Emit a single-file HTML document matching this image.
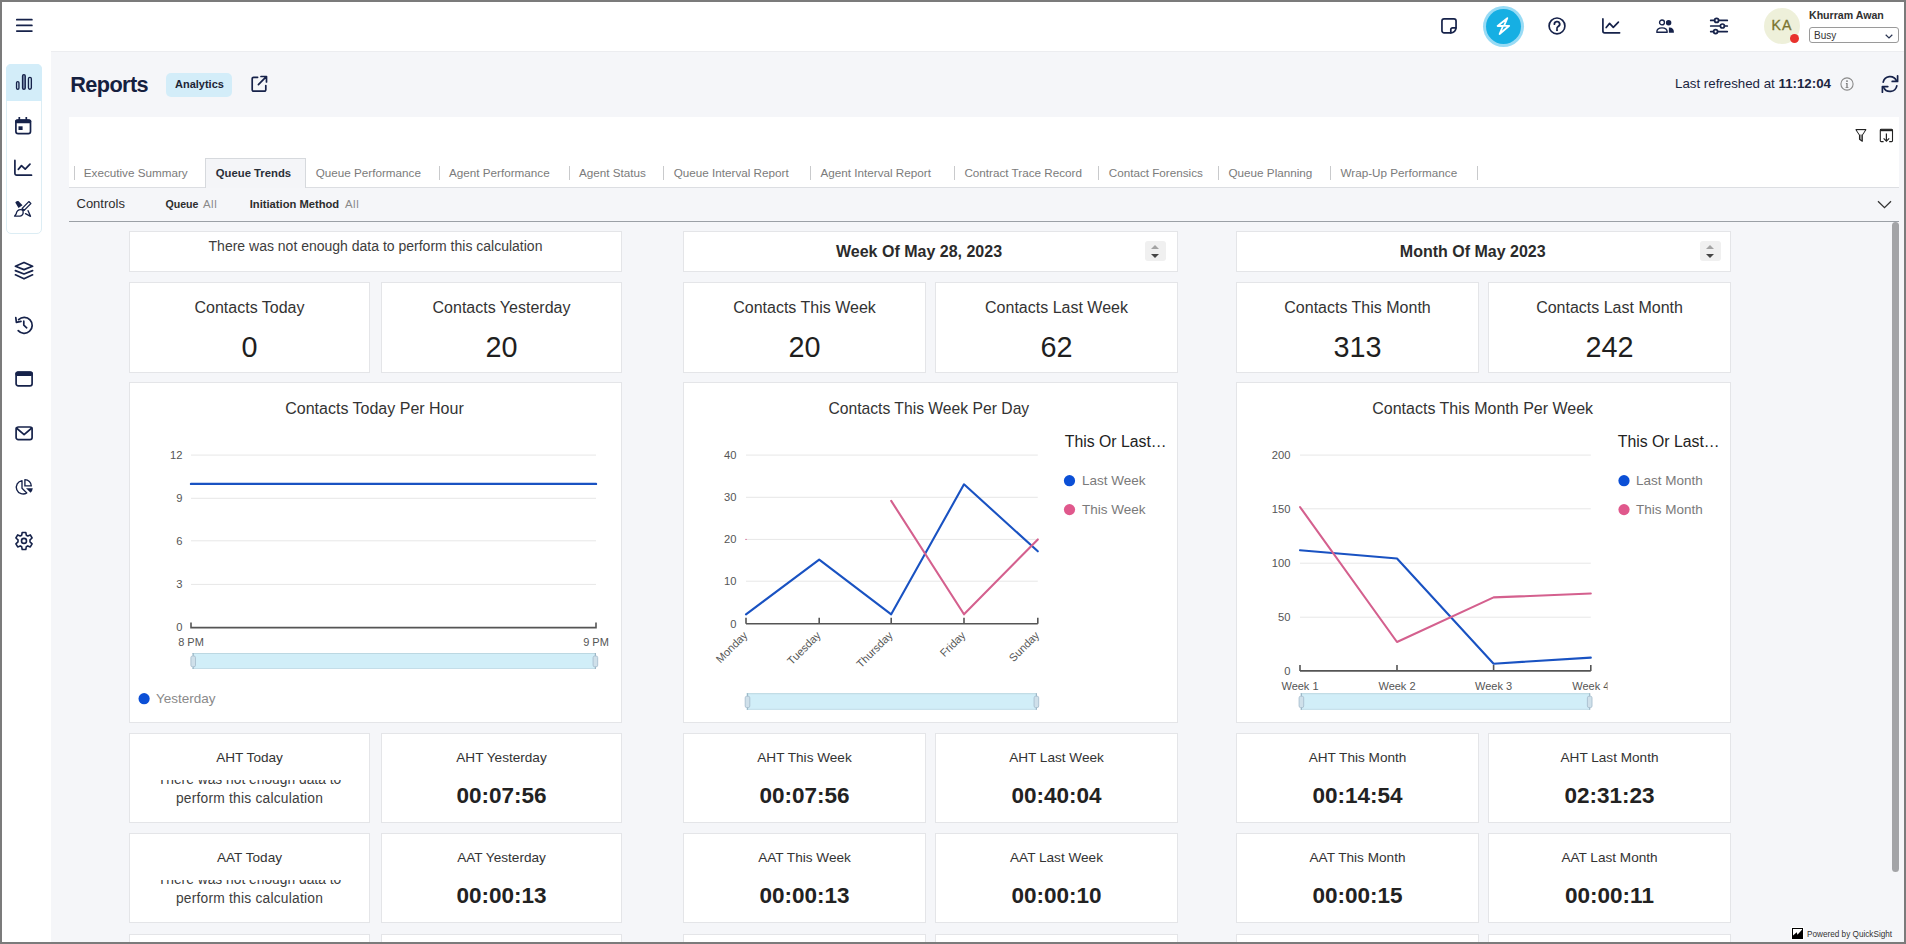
<!DOCTYPE html>
<html><head><meta charset="utf-8"><title>Reports</title>
<style>
*{box-sizing:border-box;margin:0;padding:0}
html,body{width:1906px;height:944px;overflow:hidden}
body{background:#f5f6f9;font-family:"Liberation Sans",Arial,sans-serif;position:relative}
.a{position:absolute}
.bd{position:absolute;background:#7b7b7b;z-index:100}
.t{position:absolute;white-space:nowrap;line-height:1}
svg{position:absolute;overflow:visible}
.ic{fill:none;stroke:#16224a;stroke-width:1.7;stroke-linecap:round;stroke-linejoin:round}
.card{position:absolute;background:#fff;border:1px solid #e4e5e8}
.kt{position:absolute;left:0;right:0;text-align:center;white-space:nowrap;line-height:1;color:#333}
.tab{position:absolute;top:166.6px;font-size:11.7px;color:#7b7b7b;white-space:nowrap;line-height:1}
.sep{position:absolute;top:166px;width:1px;height:14px;background:#c9cacc}
.spin{position:absolute;width:21px;height:19.5px;background:#f0f0f0;border-radius:3px}
.spin .up{position:absolute;left:6.3px;top:4.3px;width:0;height:0;border-left:4.3px solid transparent;border-right:4.3px solid transparent;border-bottom:4.7px solid #a3a3a3}
.spin .dn{position:absolute;left:6.3px;top:12.8px;width:0;height:0;border-left:4.3px solid transparent;border-right:4.3px solid transparent;border-top:4.5px solid #454545}
</style></head>
<body>
<!-- outer border -->
<div class="bd" style="left:0;top:0;width:1906px;height:2px"></div>
<div class="bd" style="left:0;top:0;width:2px;height:944px"></div>
<div class="bd" style="left:1904px;top:0;width:2px;height:944px"></div>
<div class="bd" style="left:0;top:942px;width:1906px;height:2px"></div>

<!-- header -->
<div class="a" style="left:0;top:0;width:1906px;height:51px;background:#fff"></div>
<div class="a" style="left:51px;top:51px;width:1853px;height:1px;background:#ecedf0"></div>
<!-- sidebar -->
<div class="a" style="left:0;top:0;width:51px;height:944px;background:#fff"></div>

<!-- hamburger -->
<svg style="left:16px;top:18px" width="17" height="15" viewBox="0 0 17 15"><g class="ic" stroke-width="1.8"><path d="M0.8 1.7H15.9M0.8 7.4H15.9M0.8 13.1H15.9"/></g></svg>

<!-- sidebar group -->
<div class="a" style="left:6px;top:64px;width:36px;height:170px;border:1px solid #dcedf4;border-radius:5px;background:#fff"></div>
<div class="a" style="left:6px;top:64px;width:36px;height:37px;background:#d3edf9;border-radius:5px 5px 0 0"></div>


<!-- header right icons -->
<svg style="left:1440px;top:17px" width="18" height="18" viewBox="0 0 18 18"><g class="ic" stroke-width="1.6"><path d="M4.1 1.95H13.9A2.15 2.15 0 0 1 16.05 4.1V10.6A5.25 5.25 0 0 1 10.8 15.85H4.1A2.15 2.15 0 0 1 1.95 13.7V4.1A2.15 2.15 0 0 1 4.1 1.95Z"/><path d="M15.9 10.9H12.5A1.7 1.7 0 0 0 10.8 12.6V15.8"/></g></svg>
<div class="a" style="left:1482.5px;top:6px;width:41px;height:41px;border-radius:50%;background:#98dbf5"></div>
<div class="a" style="left:1485.5px;top:9px;width:35px;height:35px;border-radius:50%;background:#16afe3"></div>
<svg style="left:1495px;top:16px" width="16" height="20" viewBox="0 0 16 20"><path d="M12.3 2.2L2.6 10H8L4.6 18L14.2 9.8H9Z" fill="none" stroke="#fff" stroke-width="1.8" stroke-linejoin="round"/></svg>
<svg style="left:1547px;top:16px" width="20" height="20" viewBox="0 0 20 20"><g class="ic" stroke-width="1.6"><circle cx="10" cy="9.9" r="7.9"/><path d="M7.4 8.2A2.65 2.5 0 1 1 11.2 10.4C10.5 10.9 10 11.3 10 12.2" stroke-width="1.8"/></g><circle cx="10" cy="14.1" r="1.15" fill="#16224a"/></svg>
<svg style="left:1601px;top:17px" width="20" height="18" viewBox="0 0 20 18"><g class="ic" stroke-width="1.75"><path d="M1.9 1.9V14.1A1.75 1.75 0 0 0 3.65 15.85H18.6"/><path d="M5.2 10.5L8.6 6.4L12.3 10.3L17.4 5.1"/></g></svg>
<svg style="left:1655px;top:18px" width="20" height="17" viewBox="0 0 20 17"><circle cx="13.6" cy="4.7" r="2.75" fill="#16224a"/><path d="M13.5 9.6H14.7C17.1 9.6 18.9 11.5 18.9 13.9V14.8H13.9Z" fill="#16224a"/><circle cx="7" cy="4.4" r="4" fill="#fff"/><path d="M13.3 9.2L12.6 15.2" stroke="#fff" stroke-width="1.2"/><g fill="none" stroke="#16224a" stroke-width="1.35"><circle cx="7" cy="4.4" r="2.45"/><path d="M1.8 14.2C1.8 11.4 4.1 9.9 7 9.9C9.9 9.9 12.2 11.4 12.2 14.2Z" stroke-linejoin="round"/></g></svg>
<svg style="left:1709px;top:16px" width="20" height="19" viewBox="0 0 20 19"><g class="ic" stroke-width="1.5"><path d="M1.7 4.4H5.5M9.7 4.4H18.3M1.7 10H11.3M15.5 10H18.3M1.7 15.6H4.5M8.7 15.6H18.3"/><circle cx="7.6" cy="4.4" r="2"/><circle cx="13.4" cy="10" r="2"/><circle cx="6.6" cy="15.6" r="2"/></g></svg>

<!-- avatar -->
<div class="a" style="left:1764px;top:8px;width:36px;height:36px;border-radius:50%;background:#eef0da"></div>
<div class="t" style="left:1771.4px;top:18.1px;font-size:14.1px;letter-spacing:1.3px;color:#7a7431;-webkit-text-stroke:0.35px #7a7431">KA</div>
<div class="a" style="left:1790px;top:34px;width:9px;height:9px;border-radius:50%;background:#e8322d"></div>
<div class="t" style="left:1809px;top:9.8px;font-size:10.6px;font-weight:700;color:#303030">Khurram Awan</div>
<div class="a" style="left:1809px;top:27px;width:90px;height:16px;border:1px solid #9a9a9a;border-radius:3px;background:#fff"></div>
<div class="t" style="left:1814px;top:30.5px;font-size:10px;color:#333">Busy</div>
<svg style="left:1885px;top:34px" width="8" height="5" viewBox="0 0 8 5"><path d="M0.7 0.8L4 4L7.3 0.8" fill="none" stroke="#2a3552" stroke-width="1.2"/></svg>

<!-- reports title row -->
<div class="t" style="left:70.3px;top:73.6px;font-size:21.7px;letter-spacing:-0.6px;font-weight:700;color:#15203f">Reports</div>
<div class="a" style="left:166px;top:73px;width:66px;height:24px;border-radius:5px;background:#d3edf9"></div>
<div class="t" style="left:175px;top:78.5px;font-size:11px;font-weight:700;color:#1d2535">Analytics</div>
<svg style="left:250px;top:75px" width="18" height="18" viewBox="0 0 18 18"><g class="ic" stroke-width="1.7"><path d="M7.6 2.3H3.6A1.4 1.4 0 0 0 2.2 3.7V14.8A1.4 1.4 0 0 0 3.6 16.2H14.4A1.4 1.4 0 0 0 15.8 14.8V10.6"/><path d="M11 1.5H16.5V7M16.3 1.7L8.4 9.6"/></g></svg>

<div class="t" style="left:1675px;top:76.8px;font-size:13.3px;color:#1b2540">Last refreshed at <b>11:12:04</b></div>
<svg style="left:1840.4px;top:76.7px" width="14" height="14" viewBox="0 0 14 14"><circle cx="7" cy="7" r="6.1" fill="none" stroke="#8a8a8a" stroke-width="1.1"/><circle cx="7" cy="4.1" r="0.85" fill="#6a6a6a"/><path d="M6.45 5.9H7.55V9.9H8.4V10.8H5.6V9.9H6.45V6.8H5.9V5.9Z" fill="#6a6a6a"/></svg>
<svg style="left:1880px;top:74px" width="20" height="20" viewBox="0 0 20 20"><g class="ic" stroke-width="1.8"><path d="M3.2 8.2A7 7 0 0 1 16.4 6.6"/><path d="M17.6 1.8V7.4H12.2"/><path d="M16.8 11.8A7 7 0 0 1 3.6 13.4"/><path d="M2.4 18.2V12.6H7.8"/></g></svg>

<!-- white panel (tabs area) -->
<div class="a" style="left:69px;top:117px;width:1830px;height:71px;background:#fff;border-bottom:1px solid #dcdee2"></div>
<svg style="left:1855px;top:128px" width="12" height="15" viewBox="0 0 12 15"><path d="M1 1.6H10.8L7.3 7V13.3L4.5 11.3V7Z" fill="#9a9a9a" stroke="#222" stroke-width="1.1" stroke-linejoin="round"/><path d="M1.8 2.2H10L7.2 6.6H4.6Z" fill="#fff"/></svg>
<svg style="left:1879px;top:128px" width="15" height="15" viewBox="0 0 15 15"><path d="M4.6 13.6H2.2A0.9 0.9 0 0 1 1.3 12.7V2.2A0.9 0.9 0 0 1 2.2 1.3H12.6A0.9 0.9 0 0 1 13.5 2.2V12.7A0.9 0.9 0 0 1 12.6 13.6H10.2" fill="none" stroke="#222" stroke-width="1.1"/><rect x="1.3" y="1.3" width="12.2" height="1.9" fill="#222"/><path d="M7.4 5.6V13.2M4.6 10.4L7.4 13.2L10.2 10.4" fill="none" stroke="#222" stroke-width="1.2"/></svg>


<!-- sidebar icons -->
<svg style="left:14px;top:72px" width="20" height="20" viewBox="0 0 20 20"><g fill="none" stroke="#16224a" stroke-width="1.35"><rect x="2.55" y="9.65" width="2.4" height="7.6" rx="1.2"/><rect x="8.55" y="2.65" width="2.7" height="14.6" rx="1.3" fill="#8497b6"/><rect x="14.45" y="5.35" width="2.9" height="11.9" rx="1.4"/></g></svg>
<svg style="left:14px;top:116px" width="19" height="20" viewBox="0 0 19 20"><g fill="none" stroke="#16224a" stroke-width="1.7"><rect x="1.9" y="4.1" width="14.6" height="13.5" rx="2.2"/><path d="M5.3 0.9V4.5M12.3 0.9V4.5"/></g><rect x="1.1" y="3.4" width="16.2" height="3.8" rx="1.6" fill="#16224a"/><rect x="4.5" y="10.3" width="4.1" height="3.7" fill="#16224a"/></svg>
<svg style="left:13px;top:159px" width="20" height="18" viewBox="0 0 20 18"><g class="ic" stroke-width="1.9"><path d="M1.9 1.4V14.3A1.8 1.8 0 0 0 3.7 16.2H18.5"/><path d="M5.3 10.4L8.5 6.6L12.2 10.1L17 5.1"/></g></svg>
<svg style="left:12px;top:198px" width="24" height="22" viewBox="0 0 24 22"><path d="M3.3 4.6Q4 2.6 6.4 3.1L10.5 7.2L6.5 9.9Z" fill="#16224a"/><g fill="none" stroke="#16224a" stroke-width="1.35" stroke-linejoin="round" stroke-linecap="round"><path d="M16.8 3.6L18.8 5.6L12.2 12.4L10.2 10.4Z"/><path d="M9.2 11.7C6.3 11.5 4.6 13.4 4.2 15.9L2.6 18.1H8.1C10.2 17.9 11.5 16.1 11.1 13.7"/><path d="M13.5 15.7L18.5 18.3L16.1 12.7"/></g><path d="M10.2 10.4L12.2 12.4L11 13.7L9 11.7Z" fill="#16224a"/></svg>
<svg style="left:14px;top:261px" width="20" height="20" viewBox="0 0 20 20"><g class="ic" stroke-width="1.6"><path d="M1.4 5.3L10 1.4L18.6 5.3L10 8.6Z"/><path d="M1.4 9.6L10 13L18.6 9.6"/><path d="M1.4 13.8L10 17.8L18.6 13.8"/></g></svg>
<svg style="left:14px;top:315px" width="20" height="20" viewBox="0 0 20 20"><g class="ic" stroke-width="1.6"><path d="M4.6 4.6A8 8 0 1 1 4.2 15.6"/><path d="M1.8 2.6L2.4 7.4L7 6.4"/><path d="M9.8 6.2V10.2L12.7 12.8"/></g></svg>
<svg style="left:14px;top:370px" width="20" height="18" viewBox="0 0 20 18"><rect x="2.1" y="2.2" width="16" height="13.7" rx="2.2" fill="none" stroke="#16224a" stroke-width="1.7"/><rect x="1.3" y="1.4" width="17.6" height="4.5" rx="2" fill="#16224a"/></svg>
<svg style="left:14px;top:425px" width="20" height="16" viewBox="0 0 20 16"><g class="ic" stroke-width="1.7"><rect x="2.1" y="2" width="16" height="12.6" rx="2.2"/><path d="M2.4 3L10.1 9.6L17.8 3"/></g></svg>
<svg style="left:12px;top:476px" width="24" height="22" viewBox="0 0 24 22"><g fill="none" stroke="#16224a" stroke-width="1.35" stroke-linejoin="round"><path d="M10 4.6V12.3L14.8 16.9A6.75 6.75 0 1 1 10 4.6Z"/><path d="M12.9 9.9V3.6A6.4 6.4 0 0 1 19.3 9.9Z"/></g><path d="M14 12.3H20.8A6.8 6.8 0 0 1 18.6 16.7Z" fill="#16224a"/></svg>
<svg style="left:14px;top:531px" width="20" height="20" viewBox="0 0 20 20"><path d="M8.2 1.5H11.8L12.3 4.2L13.8 5L16.3 3.9L18.1 7L16 8.8V10.9L18.1 12.8L16.3 15.9L13.8 14.9L12.3 15.8L11.8 18.5H8.2L7.7 15.8L6.2 14.9L3.7 15.9L1.9 12.8L4 10.9V8.8L1.9 7L3.7 3.9L6.2 5L7.7 4.2Z" fill="none" stroke="#16224a" stroke-width="1.6" stroke-linejoin="round"/><circle cx="10" cy="9.9" r="2.5" fill="none" stroke="#16224a" stroke-width="1.6"/></svg>


<!-- tabs -->
<div class="a" style="left:205px;top:158px;width:101px;height:30px;background:#f4f5f8;border:1px solid #d6d9dd;border-bottom:none"></div>
<div class="t" style="left:215.8px;top:167.9px;font-size:11.3px;font-weight:700;color:#2a2f38">Queue Trends</div>
<div class="tab" style="left:83.8px">Executive Summary</div>
<div class="tab" style="left:315.7px">Queue Performance</div>
<div class="tab" style="left:449px">Agent Performance</div>
<div class="tab" style="left:579px">Agent Status</div>
<div class="tab" style="left:673.7px">Queue Interval Report</div>
<div class="tab" style="left:820.5px">Agent Interval Report</div>
<div class="tab" style="left:964.4px">Contract Trace Record</div>
<div class="tab" style="left:1108.7px">Contact Forensics</div>
<div class="tab" style="left:1228.5px">Queue Planning</div>
<div class="tab" style="left:1340.5px">Wrap-Up Performance</div>
<div class="sep" style="left:74.0px"></div>
<div class="sep" style="left:439.0px"></div>
<div class="sep" style="left:569.2px"></div>
<div class="sep" style="left:663.1px"></div>
<div class="sep" style="left:809.5px"></div>
<div class="sep" style="left:954.0px"></div>
<div class="sep" style="left:1098.1px"></div>
<div class="sep" style="left:1217.9px"></div>
<div class="sep" style="left:1329.9px"></div>
<div class="sep" style="left:1477.0px"></div>

<!-- controls -->
<div class="t" style="left:76.5px;top:197px;font-size:13px;color:#2d2d2d">Controls</div>
<div class="t" style="left:165.5px;top:199.2px;font-size:10.6px;font-weight:700;color:#2d2d2d">Queue <span style="font-weight:400;color:#8a8a8a;margin-left:1.5px;font-size:11.4px;letter-spacing:0.6px">All</span></div>
<div class="t" style="left:249.7px;top:199.2px;font-size:11.2px;font-weight:700;color:#2d2d2d">Initiation Method <span style="font-weight:400;color:#8a8a8a;margin-left:2.6px;font-size:11.4px;letter-spacing:0.6px">All</span></div>
<svg style="left:1877px;top:200px" width="15" height="9" viewBox="0 0 15 9"><path d="M1 1.2L7.5 7.6L14 1.2" fill="none" stroke="#333" stroke-width="1.3"/></svg>
<div class="a" style="left:69px;top:221px;width:1830px;height:1px;background:#9ba0a6"></div>
<!-- scrollbar -->
<div class="a" style="left:1892px;top:222px;width:7px;height:650px;border-radius:3.5px;background:#a3a4a7"></div>
<!-- powered by -->
<div class="a" style="left:1791px;top:927px;width:13px;height:13px;background:#fff"></div>
<svg style="left:1792px;top:928px" width="11" height="11" viewBox="0 0 11 11"><rect width="11" height="11" fill="#000"/><path d="M1 1H10V1.8L5.4 6.8L4.8 4.2L1 7.4Z" fill="#fff"/></svg>
<div class="t" style="left:1807px;top:930.5px;font-size:8.2px;color:#333">Powered by QuickSight</div>

<!--CARDS-->
<div class="card" style="left:129px;top:231px;width:493px;height:41px"><div class="kt" style="top:7.35px;font-size:14px;font-weight:400;color:#3d3d3d;">There was not enough data to perform this calculation</div></div>
<div class="card" style="left:683px;top:231px;width:495px;height:41px"><div class="t" style="left:152px;top:11.76px;font-size:16px;font-weight:700;color:#2b2b2b">Week Of May 28, 2023</div><div class="spin" style="left:461px;top:9px"><i class="up"></i><i class="dn"></i></div></div>
<div class="card" style="left:1236px;top:231px;width:495px;height:41px"><div class="t" style="left:162.8px;top:11.76px;font-size:16px;font-weight:700;color:#2b2b2b">Month Of May 2023</div><div class="spin" style="left:463px;top:9px"><i class="up"></i><i class="dn"></i></div></div>
<div class="card" style="left:129px;top:282px;width:241px;height:91px"><div class="kt" style="top:17.36px;font-size:16px;font-weight:400;color:#333;">Contacts Today</div><div class="kt" style="top:49.52px;font-size:28.8px;font-weight:400;color:#1f1f1f;">0</div></div>
<div class="card" style="left:381px;top:282px;width:241px;height:91px"><div class="kt" style="top:17.36px;font-size:16px;font-weight:400;color:#333;">Contacts Yesterday</div><div class="kt" style="top:49.52px;font-size:28.8px;font-weight:400;color:#1f1f1f;">20</div></div>
<div class="card" style="left:683px;top:282px;width:243px;height:91px"><div class="kt" style="top:17.36px;font-size:16px;font-weight:400;color:#333;">Contacts This Week</div><div class="kt" style="top:49.52px;font-size:28.8px;font-weight:400;color:#1f1f1f;">20</div></div>
<div class="card" style="left:935px;top:282px;width:243px;height:91px"><div class="kt" style="top:17.36px;font-size:16px;font-weight:400;color:#333;">Contacts Last Week</div><div class="kt" style="top:49.52px;font-size:28.8px;font-weight:400;color:#1f1f1f;">62</div></div>
<div class="card" style="left:1236px;top:282px;width:243px;height:91px"><div class="kt" style="top:17.36px;font-size:16px;font-weight:400;color:#333;">Contacts This Month</div><div class="kt" style="top:49.52px;font-size:28.8px;font-weight:400;color:#1f1f1f;">313</div></div>
<div class="card" style="left:1488px;top:282px;width:243px;height:91px"><div class="kt" style="top:17.36px;font-size:16px;font-weight:400;color:#333;">Contacts Last Month</div><div class="kt" style="top:49.52px;font-size:28.8px;font-weight:400;color:#1f1f1f;">242</div></div>
<div class="card" style="left:129px;top:382px;width:493px;height:341px"></div>
<div class="card" style="left:683px;top:382px;width:495px;height:341px"></div>
<div class="card" style="left:1236px;top:382px;width:495px;height:341px"></div>
<div class="card" style="left:129px;top:733px;width:241px;height:90px"><div class="kt" style="top:17.49px;font-size:13.6px;font-weight:400;color:#333;">AHT Today</div><div class="a" style="left:0;right:0;top:45.7px;height:40px;overflow:hidden"><div class="kt" style="top:-8.98px;font-size:13.8px;line-height:18.8px;color:#3d3d3d;white-space:normal">There was not enough data to<br><span style="letter-spacing:0.22px">perform this calculation</span></div></div></div>
<div class="card" style="left:381px;top:733px;width:241px;height:90px"><div class="kt" style="top:17.49px;font-size:13.6px;font-weight:400;color:#333;">AHT Yesterday</div><div class="kt" style="top:51.25px;font-size:22.5px;font-weight:700;color:#222;">00:07:56</div></div>
<div class="card" style="left:683px;top:733px;width:243px;height:90px"><div class="kt" style="top:17.49px;font-size:13.6px;font-weight:400;color:#333;">AHT This Week</div><div class="kt" style="top:51.25px;font-size:22.5px;font-weight:700;color:#222;">00:07:56</div></div>
<div class="card" style="left:935px;top:733px;width:243px;height:90px"><div class="kt" style="top:17.49px;font-size:13.6px;font-weight:400;color:#333;">AHT Last Week</div><div class="kt" style="top:51.25px;font-size:22.5px;font-weight:700;color:#222;">00:40:04</div></div>
<div class="card" style="left:1236px;top:733px;width:243px;height:90px"><div class="kt" style="top:17.49px;font-size:13.6px;font-weight:400;color:#333;">AHT This Month</div><div class="kt" style="top:51.25px;font-size:22.5px;font-weight:700;color:#222;">00:14:54</div></div>
<div class="card" style="left:1488px;top:733px;width:243px;height:90px"><div class="kt" style="top:17.49px;font-size:13.6px;font-weight:400;color:#333;">AHT Last Month</div><div class="kt" style="top:51.25px;font-size:22.5px;font-weight:700;color:#222;">02:31:23</div></div>
<div class="card" style="left:129px;top:833px;width:241px;height:90px"><div class="kt" style="top:17.49px;font-size:13.6px;font-weight:400;color:#333;">AAT Today</div><div class="a" style="left:0;right:0;top:45.7px;height:40px;overflow:hidden"><div class="kt" style="top:-8.98px;font-size:13.8px;line-height:18.8px;color:#3d3d3d;white-space:normal">There was not enough data to<br><span style="letter-spacing:0.22px">perform this calculation</span></div></div></div>
<div class="card" style="left:381px;top:833px;width:241px;height:90px"><div class="kt" style="top:17.49px;font-size:13.6px;font-weight:400;color:#333;">AAT Yesterday</div><div class="kt" style="top:51.25px;font-size:22.5px;font-weight:700;color:#222;">00:00:13</div></div>
<div class="card" style="left:683px;top:833px;width:243px;height:90px"><div class="kt" style="top:17.49px;font-size:13.6px;font-weight:400;color:#333;">AAT This Week</div><div class="kt" style="top:51.25px;font-size:22.5px;font-weight:700;color:#222;">00:00:13</div></div>
<div class="card" style="left:935px;top:833px;width:243px;height:90px"><div class="kt" style="top:17.49px;font-size:13.6px;font-weight:400;color:#333;">AAT Last Week</div><div class="kt" style="top:51.25px;font-size:22.5px;font-weight:700;color:#222;">00:00:10</div></div>
<div class="card" style="left:1236px;top:833px;width:243px;height:90px"><div class="kt" style="top:17.49px;font-size:13.6px;font-weight:400;color:#333;">AAT This Month</div><div class="kt" style="top:51.25px;font-size:22.5px;font-weight:700;color:#222;">00:00:15</div></div>
<div class="card" style="left:1488px;top:833px;width:243px;height:90px"><div class="kt" style="top:17.49px;font-size:13.6px;font-weight:400;color:#333;">AAT Last Month</div><div class="kt" style="top:51.25px;font-size:22.5px;font-weight:700;color:#222;">00:00:11</div></div>
<div class="card" style="left:129px;top:934px;width:241px;height:40px"></div>
<div class="card" style="left:381px;top:934px;width:241px;height:40px"></div>
<div class="card" style="left:683px;top:934px;width:243px;height:40px"></div>
<div class="card" style="left:935px;top:934px;width:243px;height:40px"></div>
<div class="card" style="left:1236px;top:934px;width:243px;height:40px"></div>
<div class="card" style="left:1488px;top:934px;width:243px;height:40px"></div>
<svg style="left:0;top:0;font-family:Liberation Sans,Arial,sans-serif" width="1906" height="944" viewBox="0 0 1906 944"><text x="374.5" y="414.4" font-size="16" fill="#333" text-anchor="middle" >Contacts Today Per Hour</text><line x1="191" y1="455.1" x2="596" y2="455.1" stroke="#e7e7e7" stroke-width="1"/><text x="182.5" y="459.1" font-size="11.2" fill="#555" text-anchor="end" >12</text><line x1="191" y1="498.3" x2="596" y2="498.3" stroke="#e7e7e7" stroke-width="1"/><text x="182.5" y="502.3" font-size="11.2" fill="#555" text-anchor="end" >9</text><line x1="191" y1="540.8" x2="596" y2="540.8" stroke="#e7e7e7" stroke-width="1"/><text x="182.5" y="544.8" font-size="11.2" fill="#555" text-anchor="end" >6</text><line x1="191" y1="584.4" x2="596" y2="584.4" stroke="#e7e7e7" stroke-width="1"/><text x="182.5" y="588.4" font-size="11.2" fill="#555" text-anchor="end" >3</text><text x="182.5" y="631.4" font-size="11.2" fill="#555" text-anchor="end" >0</text><path d="M191 622.6V627.6H596V622.6" fill="none" stroke="#555" stroke-width="1.6"/><polyline points="191,483.9 596,483.9" fill="none" stroke="#1952c2" stroke-width="2.4" stroke-linejoin="round" stroke-linecap="round"/><text x="191" y="645.6" font-size="11" fill="#555" text-anchor="middle" >8 PM</text><text x="596" y="645.6" font-size="11" fill="#555" text-anchor="middle" >9 PM</text><rect x="192.39999999999998" y="653" width="403.0" height="16" fill="#d1eef8"/><rect x="192.39999999999998" y="653" width="403.0" height="1" fill="#bcd8e2"/><rect x="192.39999999999998" y="668" width="403.0" height="1" fill="#c4dde8"/><rect x="192.6" y="653" width="1.2" height="16" fill="#9db7c6"/><rect x="190.89999999999998" y="656" width="4.6" height="10.8" rx="1.6" fill="#cfe0ea" stroke="#a9bfcf" stroke-width="0.9"/><rect x="594.8" y="653" width="1.2" height="16" fill="#9db7c6"/><rect x="593.1" y="656" width="4.6" height="10.8" rx="1.6" fill="#cfe0ea" stroke="#a9bfcf" stroke-width="0.9"/><circle cx="144.1" cy="698.7" r="5.6" fill="#0b4fd6"/><text x="156" y="703.4" font-size="13.5" fill="#8a8a8a" text-anchor="start" >Yesterday</text><text x="928.8" y="414.4" font-size="15.7" fill="#333" text-anchor="middle" >Contacts This Week Per Day</text><line x1="746" y1="455.1" x2="1037.8" y2="455.1" stroke="#e7e7e7" stroke-width="1"/><text x="736.5" y="459.1" font-size="11.2" fill="#555" text-anchor="end" >40</text><line x1="746" y1="497.3" x2="1037.8" y2="497.3" stroke="#e7e7e7" stroke-width="1"/><text x="736.5" y="501.3" font-size="11.2" fill="#555" text-anchor="end" >30</text><line x1="746" y1="539.4" x2="1037.8" y2="539.4" stroke="#e7e7e7" stroke-width="1"/><text x="736.5" y="543.4" font-size="11.2" fill="#555" text-anchor="end" >20</text><line x1="746" y1="581.2" x2="1037.8" y2="581.2" stroke="#e7e7e7" stroke-width="1"/><text x="736.5" y="585.2" font-size="11.2" fill="#555" text-anchor="end" >10</text><text x="736.5" y="627.8" font-size="11.2" fill="#555" text-anchor="end" >0</text><path d="M746 623.8H1037.8M746 623.8V617.8M819.2 623.8V617.8M891.2 623.8V617.8M964 623.8V617.8M1037.8 623.8V617.8" fill="none" stroke="#555" stroke-width="1.6"/><polyline points="746,614.3 819.2,559.6 891.2,614.3 964,484.3 1037.8,551.3" fill="none" stroke="#1952c2" stroke-width="2.1" stroke-linejoin="round" stroke-linecap="round"/><polyline points="891.2,500.9 964,614.3 1037.8,539.4" fill="none" stroke="#d4608e" stroke-width="2.1" stroke-linejoin="round" stroke-linecap="round"/><circle cx="746" cy="539.4" r="0.7" fill="#d4608e"/><text x="0" y="0" font-size="11" fill="#555" text-anchor="end" transform="translate(748.2,636.0) rotate(-45)">Monday</text><text x="0" y="0" font-size="11" fill="#555" text-anchor="end" transform="translate(821.4000000000001,636.0) rotate(-45)">Tuesday</text><text x="0" y="0" font-size="11" fill="#555" text-anchor="end" transform="translate(893.4000000000001,636.0) rotate(-45)">Thursday</text><text x="0" y="0" font-size="11" fill="#555" text-anchor="end" transform="translate(966.2,636.0) rotate(-45)">Friday</text><text x="0" y="0" font-size="11" fill="#555" text-anchor="end" transform="translate(1040.0,636.0) rotate(-45)">Sunday</text><rect x="746.7" y="693.2" width="289.7000000000001" height="16.59999999999991" fill="#d1eef8"/><rect x="746.7" y="693.2" width="289.7000000000001" height="1" fill="#bcd8e2"/><rect x="746.7" y="708.8" width="289.7000000000001" height="1" fill="#c4dde8"/><rect x="746.9" y="693.2" width="1.2" height="16.59999999999991" fill="#9db7c6"/><rect x="745.2" y="696.2" width="4.6" height="11.39999999999991" rx="1.6" fill="#cfe0ea" stroke="#a9bfcf" stroke-width="0.9"/><rect x="1035.8000000000002" y="693.2" width="1.2" height="16.59999999999991" fill="#9db7c6"/><rect x="1034.1000000000001" y="696.2" width="4.6" height="11.39999999999991" rx="1.6" fill="#cfe0ea" stroke="#a9bfcf" stroke-width="0.9"/><text x="1064.8" y="447.1" font-size="15.8" fill="#222" text-anchor="start" >This Or Last…</text><circle cx="1069.5" cy="480.7" r="5.6" fill="#0b4fd6"/><text x="1082" y="485" font-size="13.5" fill="#7a7a7a" text-anchor="start" >Last Week</text><circle cx="1069.5" cy="509.6" r="5.6" fill="#e0588c"/><text x="1082" y="514" font-size="13.5" fill="#7a7a7a" text-anchor="start" >This Week</text><text x="1482.7" y="414.4" font-size="16" fill="#333" text-anchor="middle" >Contacts This Month Per Week</text><line x1="1300" y1="455.1" x2="1590.8" y2="455.1" stroke="#e7e7e7" stroke-width="1"/><text x="1290.5" y="459.1" font-size="11.2" fill="#555" text-anchor="end" >200</text><line x1="1300" y1="508.8" x2="1590.8" y2="508.8" stroke="#e7e7e7" stroke-width="1"/><text x="1290.5" y="512.8" font-size="11.2" fill="#555" text-anchor="end" >150</text><line x1="1300" y1="563.2" x2="1590.8" y2="563.2" stroke="#e7e7e7" stroke-width="1"/><text x="1290.5" y="567.2" font-size="11.2" fill="#555" text-anchor="end" >100</text><line x1="1300" y1="617.2" x2="1590.8" y2="617.2" stroke="#e7e7e7" stroke-width="1"/><text x="1290.5" y="621.2" font-size="11.2" fill="#555" text-anchor="end" >50</text><text x="1290.5" y="674.9" font-size="11.2" fill="#555" text-anchor="end" >0</text><path d="M1300 670.9H1590.8M1300 670.9V664.9M1397 670.9V664.9M1493.6 670.9V664.9M1590.8 670.9V664.9" fill="none" stroke="#555" stroke-width="1.6"/><polyline points="1300,550.2 1397,558.5 1493.6,663.7 1590.8,657.6" fill="none" stroke="#1952c2" stroke-width="2.1" stroke-linejoin="round" stroke-linecap="round"/><polyline points="1300,507 1397,642 1493.6,597.4 1590.8,593.5" fill="none" stroke="#d4608e" stroke-width="2.1" stroke-linejoin="round" stroke-linecap="round"/><clipPath id="c3"><rect x="1240" y="675" width="367.5" height="20"/></clipPath><g clip-path="url(#c3)"><text x="1300" y="690" font-size="11" fill="#555" text-anchor="middle" >Week 1</text><text x="1397" y="690" font-size="11" fill="#555" text-anchor="middle" >Week 2</text><text x="1493.6" y="690" font-size="11" fill="#555" text-anchor="middle" >Week 3</text><text x="1590.8" y="690" font-size="11" fill="#555" text-anchor="middle" >Week 4</text></g><rect x="1300.6000000000001" y="693.2" width="289.09999999999997" height="16.59999999999991" fill="#d1eef8"/><rect x="1300.6000000000001" y="693.2" width="289.09999999999997" height="1" fill="#bcd8e2"/><rect x="1300.6000000000001" y="708.8" width="289.09999999999997" height="1" fill="#c4dde8"/><rect x="1300.8000000000002" y="693.2" width="1.2" height="16.59999999999991" fill="#9db7c6"/><rect x="1299.1000000000001" y="696.2" width="4.6" height="11.39999999999991" rx="1.6" fill="#cfe0ea" stroke="#a9bfcf" stroke-width="0.9"/><rect x="1589.1000000000001" y="693.2" width="1.2" height="16.59999999999991" fill="#9db7c6"/><rect x="1587.4" y="696.2" width="4.6" height="11.39999999999991" rx="1.6" fill="#cfe0ea" stroke="#a9bfcf" stroke-width="0.9"/><text x="1617.8" y="447.1" font-size="15.8" fill="#222" text-anchor="start" >This Or Last…</text><circle cx="1624" cy="480.7" r="5.6" fill="#0b4fd6"/><text x="1635.9" y="485" font-size="13.5" fill="#7a7a7a" text-anchor="start" >Last Month</text><circle cx="1624" cy="509.6" r="5.6" fill="#e0588c"/><text x="1635.9" y="514" font-size="13.5" fill="#7a7a7a" text-anchor="start" >This Month</text></svg>
<!--/CARDS-->
</body></html>
